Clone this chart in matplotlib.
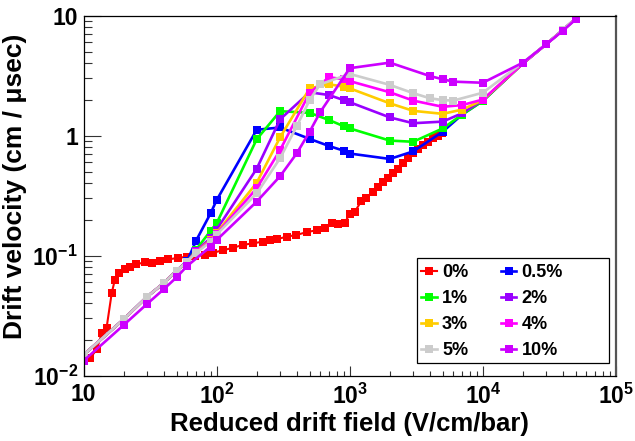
import matplotlib
matplotlib.use("Agg")
import matplotlib.pyplot as plt
from matplotlib.patches import Rectangle

# drift velocity vs reduced field, one curve per admixture fraction
labels = ["0%", "0.5%", "1%", "2%", "3%", "4%", "5%", "10%"]
colors = ["#ff0000", "#0000ff", "#00ff00", "#9900ff",
          "#ffcc00", "#ff00ff", "#cccccc", "#cc00ff"]

x_0 = [10, 11.2, 12.6, 13.7, 14.9, 16.3, 17.2, 18.6, 20.5, 22.3, 25, 29, 32.5,
       37.5, 43, 51.5, 59.5, 68.7, 81.7, 94, 112, 133, 158, 188, 224, 251,
       282, 335, 398, 474, 563, 650, 730, 819, 918, 1000, 1092, 1225, 1336,
       1500, 1634, 1780, 1942, 2118, 2307, 2515, 2746, 2994, 3270, 3560,
       3880, 4230, 4600, 4900]
y_0 = [0.0135, 0.014, 0.0166, 0.0226, 0.025, 0.049, 0.063, 0.072, 0.077,
       0.081, 0.085, 0.088, 0.087, 0.091, 0.093, 0.096, 0.098, 0.099, 0.1015,
       0.106, 0.111, 0.1166, 0.123, 0.127, 0.131, 0.135, 0.137, 0.144, 0.149,
       0.157, 0.163, 0.169, 0.188, 0.183, 0.188, 0.223, 0.232, 0.287, 0.304,
       0.341, 0.376, 0.414, 0.442, 0.486, 0.525, 0.589, 0.648, 0.713, 0.77,
       0.83, 0.89, 0.95, 1.0, 1.05]

x_05 = [10, 20, 30, 40, 50, 60, 70, 90, 100, 200, 300, 500, 700, 900, 1000,
        2000, 3000, 5000, 7000, 10000, 20000, 30000, 40000, 50000]
y_05 = [0.0149, 0.0295, 0.0455, 0.059, 0.075, 0.09, 0.133, 0.225, 0.29, 1.12,
        1.17, 0.94, 0.82, 0.75, 0.71, 0.64, 0.74, 1.08, 1.5, 1.95, 4.0, 5.8,
        7.6, 9.5]

x_1 = [10, 20, 30, 40, 50, 60, 70, 90, 100, 200, 300, 500, 700, 900, 1000,
       2000, 3000, 5000, 7000, 10000, 20000, 30000, 40000, 50000]
y_1 = [0.0149, 0.0295, 0.0455, 0.059, 0.075, 0.089, 0.112, 0.161, 0.186,
       0.933, 1.6, 1.55, 1.35, 1.2, 1.15, 0.91, 0.89, 1.15, 1.5, 1.95, 4.0,
       5.8, 7.6, 9.5]

x_2 = [10, 20, 30, 40, 50, 60, 70, 90, 100, 200, 300, 500, 700, 900, 1000,
       2000, 3000, 5000, 7000, 10000, 20000, 30000, 40000, 50000]
y_2 = [0.0149, 0.0295, 0.0455, 0.059, 0.075, 0.089, 0.11, 0.14, 0.165, 0.53,
       1.37, 2.3, 2.18, 1.98, 1.9, 1.42, 1.27, 1.31, 1.54, 1.98, 4.0, 5.8,
       7.6, 9.5]

x_3 = [10, 20, 30, 40, 50, 60, 70, 90, 100, 200, 300, 500, 700, 900, 1000,
       2000, 3000, 5000, 7000, 10000, 20000, 30000, 40000, 50000]
y_3 = [0.0149, 0.0295, 0.0455, 0.059, 0.075, 0.089, 0.108, 0.135, 0.155,
       0.405, 0.97, 2.48, 2.68, 2.56, 2.48, 1.86, 1.61, 1.52, 1.65, 1.98, 4.0,
       5.8, 7.6, 9.5]

x_4 = [10, 20, 30, 40, 50, 60, 70, 90, 100, 200, 300, 500, 700, 900, 1000,
       2000, 3000, 5000, 7000, 10000, 20000, 30000, 40000, 50000]
y_4 = [0.0149, 0.0295, 0.0455, 0.059, 0.075, 0.089, 0.107, 0.133, 0.152,
       0.364, 0.76, 2.28, 3.07, 2.95, 2.85, 2.3, 1.96, 1.74, 1.8, 2.0, 4.0,
       5.8, 7.6, 9.5]

x_5 = [10, 20, 30, 40, 50, 60, 70, 90, 100, 200, 300, 400, 500, 600, 1000,
       2000, 3000, 4000, 5000, 6000, 10000, 20000, 30000, 40000, 50000]
y_5 = [0.0149, 0.0295, 0.0455, 0.059, 0.075, 0.089, 0.106, 0.13, 0.15, 0.33,
       0.65, 1.2, 1.98, 2.68, 3.27, 2.65, 2.26, 2.05, 1.98, 1.96, 2.28, 4.06,
       5.8, 7.6, 9.5]

x_10 = [10, 20, 30, 40, 50, 60, 90, 100, 200, 300, 400, 500, 600, 1000, 2000,
        4000, 5000, 6000, 10000, 20000, 30000, 40000, 50000]
y_10 = [0.0133, 0.0264, 0.0396, 0.0525, 0.066, 0.082, 0.119, 0.135, 0.282,
        0.46, 0.713, 1.08, 1.57, 3.65, 4.06, 3.14, 2.95, 2.82, 2.76, 4.06,
        5.78, 7.5, 9.33]

series = [(x_0, y_0), (x_05, y_05), (x_1, y_1), (x_2, y_2),
          (x_3, y_3), (x_4, y_4), (x_5, y_5), (x_10, y_10)]

x_ticks = [10, 100, 1000, 10000, 100000]
x_ticklabels = ["10", r"$10^{2}$", r"$10^{3}$", r"$10^{4}$", r"$10^{5}$"]
y_ticks = [0.01, 0.1, 1, 10]
y_ticklabels = [r"$10^{-2}$", r"$10^{-1}$", "1", "10"]

plt.rcParams["font.family"] = ["Liberation Sans", "DejaVu Sans"]
plt.rcParams["font.weight"] = "bold"
plt.rcParams["axes.labelweight"] = "bold"
plt.rcParams["mathtext.fontset"] = "custom"
plt.rcParams["mathtext.rm"] = "Liberation Sans:bold"
plt.rcParams["mathtext.it"] = "Liberation Sans:bold"
plt.rcParams["mathtext.bf"] = "Liberation Sans:bold"

fig = plt.figure(figsize=(6.35, 4.41), dpi=100)
ax = fig.add_axes([0.1315, 0.148, 0.8385, 0.8165])

handles = []
for (x, y), lab, col in zip(series, labels, colors):
    if lab == "0%":
        h, = ax.plot(x, y, "-s", color=col, lw=1.5, ms=6.3, mew=0, label=lab)
    else:
        h, = ax.plot(x, y, "-s", color=col, lw=1.9, ms=5.8, mew=0, label=lab)
    handles.append(h)

ax.set_xscale("log")
ax.set_yscale("log")
ax.set_xlim(10, 1e5)
ax.set_ylim(0.01, 10)
ax.set_xticks(x_ticks, x_ticklabels)
ax.set_yticks(y_ticks, y_ticklabels)

ax.tick_params(axis="both", which="both", direction="in", color="#333333",
               width=0.8, labelsize=16.5, top=False, right=False)
ax.tick_params(axis="x", which="major", length=7.2, pad=5.5)
ax.tick_params(axis="x", which="minor", length=3.3)
ax.tick_params(axis="y", which="major", length=12, pad=4)
ax.tick_params(axis="y", which="minor", length=6)

for side in ["left", "bottom", "top"]:
    ax.spines[side].set_linewidth(0.9)
    ax.spines[side].set_color("black")
ax.spines["right"].set_linewidth(1.6)
ax.spines["right"].set_color("#555555")

ax.set_xlabel("Reduced drift field (V/cm/bar)", fontsize=18.5)
ax.set_ylabel("Drift velocity (cm / μsec)", fontsize=19)
ax.xaxis.set_label_coords(0.5, -0.1)
ax.yaxis.set_label_coords(-0.106, 0.527)

# legend box drawn separately so the two columns sit where they should;
# entries go row by row: 0% 0.5% / 1% 2% / 3% 4% / 5% 10%
ax.add_patch(Rectangle((0.626, 0.034), 0.361, 0.292, transform=ax.transAxes,
                       facecolor="white", edgecolor="black", lw=0.9, zorder=5))
order = [0, 2, 4, 6, 1, 3, 5, 7]
leg = ax.legend([handles[i] for i in order], [labels[i] for i in order],
                ncol=2, loc="upper left", bbox_to_anchor=(0.626, 0.322),
                frameon=False, fontsize=13, handlelength=0.85,
                handletextpad=0.3, columnspacing=1.8, labelspacing=0.5,
                borderpad=0.25, borderaxespad=0)
leg.set_zorder(6)

fig.savefig("out.png", dpi=100)
